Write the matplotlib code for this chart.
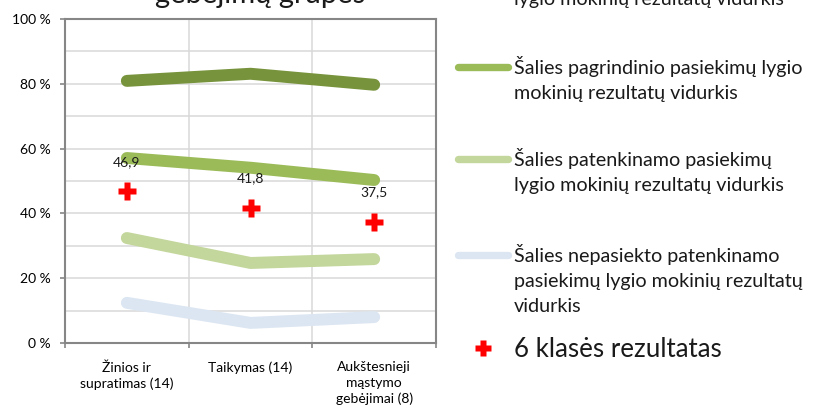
import matplotlib
matplotlib.use("Agg")
import matplotlib.pyplot as plt
from matplotlib.ticker import FixedLocator

# ---- data ----
categories = ["Žinios ir\nsupratimas (14)", "Taikymas (14)", "Aukštesnieji\nmąstymo\ngebėjimai (8)"]
aukstesnysis = [80.9, 83.1, 79.7]
pagrindinis = [57.1, 54.1, 50.3]
patenkinamas = [32.4, 24.7, 25.9]
nepasiektas = [12.4, 6.2, 8.0]
klase6 = [46.9, 41.8, 37.5]
y_ticks = [0, 20, 40, 60, 80, 100]
y_ticklabels = ["0 %", "20 %", "40 %", "60 %", "80 %", "100 %"]
title = "gebėjimų grupės"
series_labels = [
    "Šalies aukštesniojo pasiekimų\nlygio mokinių rezultatų vidurkis",
    "Šalies pagrindinio pasiekimų lygio\nmokinių rezultatų vidurkis",
    "Šalies patenkinamo pasiekimų\nlygio mokinių rezultatų vidurkis",
    "Šalies nepasiekto patenkinamo\npasiekimų lygio mokinių rezultatų\nvidurkis",
]
marker_label = "6 klasės rezultatas"

# ---- style ----
colors = ["#77933C", "#9BBB59", "#C3D69B", "#DCE6F2"]
cross_color = "#FF0000"
FONT = "Lato"
plt.rcParams["font.family"] = [FONT, "DejaVu Sans"]
plt.rcParams["text.color"] = "#1a1a1a"

W, H, DPI = 819, 408, 100
fig = plt.figure(figsize=(W / DPI, H / DPI), dpi=DPI)
fig.patch.set_facecolor("white")

left, right, top, bottom = 65, 436, 19, 343
ax = fig.add_axes([left / W, (H - bottom) / H, (right - left) / W, (bottom - top) / H])

x = list(range(len(categories)))
series = [aukstesnysis, pagrindinis, patenkinamas, nepasiektas]
for vals, c in zip(series, colors):
    ax.plot(x, vals, color=c, lw=8.6, solid_capstyle="round",
            solid_joinstyle="round", zorder=3)

ax.plot(x, klase6, linestyle="none", marker="P", ms=13, color=cross_color,
        mec="none", zorder=4)
for xi, v in zip(x, klase6):
    ax.annotate(f"{v:.1f}".replace(".", ","), (xi, v), xytext=(0, 20.9),
                textcoords="offset points", ha="center", va="center",
                fontsize=10, zorder=5)

ax.set_xlim(-0.5, len(categories) - 0.5)
ax.set_ylim(0, 100)

# y axis
ax.yaxis.set_major_locator(FixedLocator(y_ticks))
ax.set_yticklabels(y_ticklabels, fontsize=10)
ax.yaxis.set_minor_locator(FixedLocator([10, 30, 50, 70, 90]))
ax.tick_params(axis="y", which="major", direction="out", length=3.6, width=1.2,
               color="#868686", pad=7)
ax.tick_params(axis="y", which="minor", length=0)

# x axis: ticks at boundaries, labels at centers
bounds = [i - 0.5 for i in range(len(categories) + 1)]
ax.xaxis.set_major_locator(FixedLocator(bounds))
ax.set_xticklabels([""] * len(bounds))
ax.xaxis.set_minor_locator(FixedLocator(x))
ax.set_xticklabels(categories, minor=True, fontsize=10, linespacing=1.35)
ax.tick_params(axis="x", which="major", direction="out", length=3.6, width=1.2,
               color="#868686")
ax.tick_params(axis="x", which="minor", length=0, pad=13)

ax.grid(True, which="both", axis="y", color="#D9D9D9", lw=1.1, zorder=0)
ax.grid(True, which="major", axis="x", color="#D9D9D9", lw=1.1, zorder=0)
ax.set_axisbelow(True)
for s in ax.spines.values():
    s.set_color("#868686")
    s.set_linewidth(1.5)

# title (only its last line is within the picture)
fig.text(260 / W, (H - 3) / H, title, ha="center", va="baseline", fontsize=21)

# ---- legend drawn on an overlay in pixel coordinates ----
lax = fig.add_axes([0, 0, 1, 1], facecolor="none")
lax.set_xlim(0, W)
lax.set_ylim(H, 0)
lax.axis("off")
baselines = [-20, 74, 166, 262]
line_step = 25
for lab, c, b in zip(series_labels, colors, baselines):
    lax.plot([458, 508], [b - 7.5, b - 7.5], color=c, lw=5.3,
             solid_capstyle="round", clip_on=False)
    for k, ln in enumerate(lab.split("\n")):
        lax.text(514, b + k * line_step, ln, ha="left", va="baseline",
                 fontsize=14.2, clip_on=False)
lax.plot([483], [348], linestyle="none", marker="P", ms=11.5, color=cross_color,
         mec="none", clip_on=False)
lax.text(514, 357, marker_label, ha="left", va="baseline", fontsize=18.6)

fig.savefig("out.png", dpi=DPI)
